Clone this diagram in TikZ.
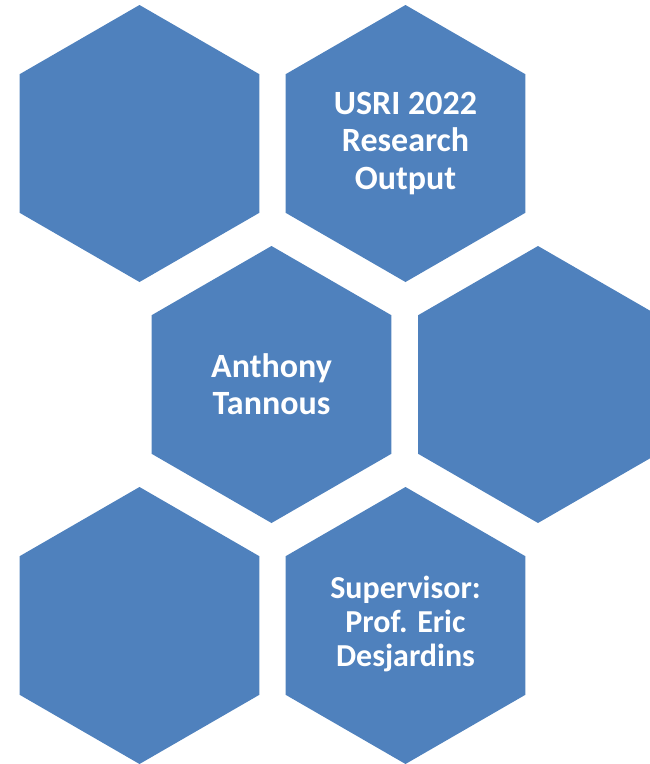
\documentclass[tikz,border=0pt]{standalone}
\usepackage{fontspec}
\setmainfont{Carlito}
\definecolor{hexblue}{HTML}{4F81BD}
\begin{document}
\begin{tikzpicture}[x=1pt,y=-1pt,
  hexfill/.style={fill=hexblue},
  hexlabel/.style={text=white,font=\fontsize{34}{37.5}\selectfont\bfseries,align=center},
  hexlabelsmall/.style={hexlabel,font=\fontsize{32}{34}\selectfont\bfseries}]
\useasboundingbox (0,0) rectangle (650,764);
\clip (0,0) rectangle (650,764);
\def\R{138.5}
\foreach \cx/\cy in {139.5/143.5, 405.5/143.5, 271.5/384.5, 538/384.5, 139.5/625.5, 405.5/625.5}{
  \fill[hexfill] (\cx,\cy) +(90:\R) -- +(150:\R) -- +(210:\R) -- +(270:\R) -- +(330:\R) -- +(30:\R) -- cycle;
}
\node[hexlabel] (usri) at (405.5,143.5) {USRI 2022\\Research\\Output};
\node[hexlabel] (name) at (271.5,384) {Anthony\\Tannous};
\node[hexlabelsmall] (sup) at (405.5,624) {Supervisor:\\Prof. Eric\\Desjardins};
\end{tikzpicture}
\end{document}
